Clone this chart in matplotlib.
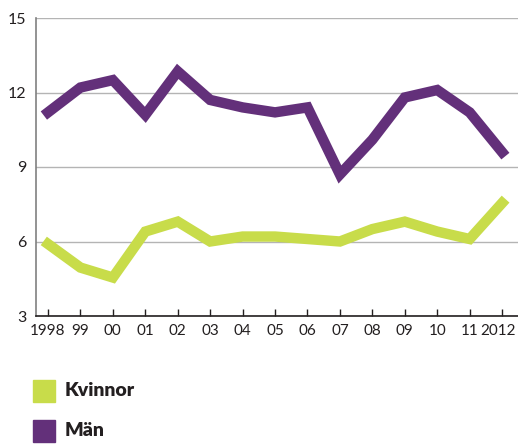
import matplotlib
matplotlib.use("Agg")
import matplotlib.pyplot as plt
import matplotlib.transforms as mtransforms
from matplotlib.patches import Rectangle

GREEN  = "#c8dc4a"
PURPLE = "#63307a"
GRID   = "#b4b4b4"
TEXT   = "#231f20"

years = [1998, 1999, 2000, 2001, 2002, 2003, 2004, 2005,
         2006, 2007, 2008, 2009, 2010, 2011, 2012]
year_labels = ["1998", "99", "00", "01", "02", "03", "04", "05",
               "06", "07", "08", "09", "10", "11", "2012"]
kvinnor = [5.9, 4.95, 4.55, 6.4, 6.8, 6.0, 6.2, 6.2, 6.1, 6.0, 6.5, 6.8, 6.4, 6.1, 7.55]
man     = [11.2, 12.2, 12.5, 11.1, 12.85, 11.7, 11.4, 11.2, 11.4, 8.7, 10.1, 11.8, 12.1, 11.2, 9.6]
yticks  = [3, 6, 9, 12, 15]

plt.rcParams["font.family"] = ["Lato", "DejaVu Sans"]

fig = plt.figure(figsize=(5.18, 4.46), dpi=100)
ax = fig.add_axes([36 / 518, 1 - 316 / 446, 1 - 36 / 518, 298 / 446])

ax.plot(years, kvinnor, color=GREEN, lw=7.5, solid_joinstyle="miter", zorder=3)
ax.plot(years, man, color=PURPLE, lw=7.5, solid_joinstyle="miter", zorder=3)

ax.set_ylim(3, 15)
ax.set_xlim(1997.63, 2012.49)
ax.set_yticks(yticks)
ax.set_yticklabels([str(v) for v in yticks])
ax.set_xticks(years)
ax.set_xticklabels(year_labels)
ax.yaxis.grid(True, color=GRID, lw=1.0, zorder=0)
ax.set_axisbelow(True)

for side in ["top", "right"]:
    ax.spines[side].set_visible(False)
ax.spines["left"].set_color("#808080")
ax.spines["left"].set_linewidth(1.2)
ax.spines["bottom"].set_color(TEXT)
ax.spines["bottom"].set_linewidth(1.2)

ax.tick_params(axis="x", direction="in", length=5, width=1, color=TEXT,
               labelsize=11, labelcolor=TEXT, pad=6)
ax.tick_params(axis="y", length=0, labelsize=11.5, labelcolor=TEXT, pad=7)

# nudge the last label left so it stays inside the figure
last = ax.get_xticklabels()[-1]
last.set_transform(last.get_transform() +
                   mtransforms.ScaledTranslation(-4 / 100, 0, fig.dpi_scale_trans))

# legend
for i, (name, col) in enumerate([("Kvinnor", GREEN), ("Män", PURPLE)]):
    y0 = 1 - (402 + i * 40) / 446
    fig.add_artist(Rectangle((33 / 518, y0), 22 / 518, 22 / 446,
                             transform=fig.transFigure, color=col))
    fig.text(65 / 518, y0 + 11 / 446, name, fontsize=14, fontweight="heavy",
             color=TEXT, va="center", ha="left")

fig.savefig("out.png", dpi=100)
